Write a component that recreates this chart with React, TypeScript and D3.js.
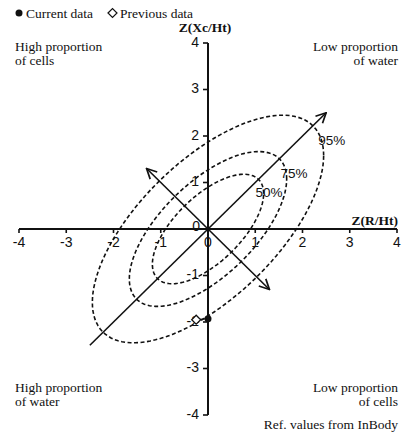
import React from "react";
import * as d3 from "d3";

const xTicks = [-4, -3, -2, -1, 0, 1, 2, 3, 4];
const yTicks = [-4, -3, -2, -1, 1, 2, 3, 4];
const correlation = 0.645;
const confidenceLevels = [
  { label: "50%", chi2: 1.386, lx: 1.29, ly: 0.8 },
  { label: "75%", chi2: 2.773, lx: 1.82, ly: 1.19 },
  { label: "95%", chi2: 5.991, lx: 2.62, ly: 1.9 },
];
const currentData = [{ x: 0, y: -1.93 }];
const previousData = [{ x: -0.25, y: -1.95 }];
const majorArrow = [[-2.5, -2.5], [2.5, 2.5]];
const minorArrow = [[-1.3, 1.3], [1.3, -1.3]];

const W = 413, H = 435;
const serif = "'Liberation Serif', 'Times New Roman', serif";
const sans = "'Liberation Sans', Arial, sans-serif";

export default function App() {
  const x = d3.scaleLinear().domain([-4, 4]).range([19, 397]);
  const y = d3.scaleLinear().domain([-4, 4]).range([415, 43]);
  const line = d3.line<[number, number]>().x(d => x(d[0])).y(d => y(d[1]));
  const angles = d3.range(0, 361, 3).map(a => (a * Math.PI) / 180);
  const s = Math.sqrt(1 - correlation * correlation);
  const ellipse = (c: number) =>
    line.curve(d3.curveLinearClosed)(
      angles.map(t => [Math.sqrt(c) * Math.cos(t), Math.sqrt(c) * (correlation * Math.cos(t) + s * Math.sin(t))] as [number, number])
    );
  const straight = d3.line<number[]>().x(d => x(d[0])).y(d => y(d[1]));
  const x0 = x(0), y0 = y(0);
  return (
    <svg width={W} height={H} style={{ position: "absolute", left: 0, top: 0, background: "#fff" }}>
      <defs>
        <marker id="arr" viewBox="0 0 12 12" refX="11" refY="6" markerWidth="12" markerHeight="12" markerUnits="userSpaceOnUse" orient="auto-start-reverse">
          <path d="M1,1 L11,6 L1,11" fill="none" stroke="#111" strokeWidth="1.7" />
        </marker>
      </defs>
      {/* legend */}
      <g fontFamily={serif} fontSize={13.5} fill="#111">
        <circle cx={19} cy={13} r={3.5} fill="#111" />
        <text x={26} y={17.5}>Current data</text>
        <path d="M108,13 l4.5,-4.5 l4.5,4.5 l-4.5,4.5 z" fill="none" stroke="#111" strokeWidth={1.2} />
        <text x={120} y={17.5}>Previous data</text>
        <text x={15} y={51}>High proportion</text>
        <text x={15} y={65}>of cells</text>
        <text x={398} y={51} textAnchor="end">Low proportion</text>
        <text x={398} y={65} textAnchor="end">of water</text>
        <text x={15} y={392}>High proportion</text>
        <text x={15} y={406}>of water</text>
        <text x={398} y={392} textAnchor="end">Low proportion</text>
        <text x={398} y={406} textAnchor="end">of cells</text>
        <text x={398} y={429} textAnchor="end">Ref. values from InBody</text>
        <text x={205} y={32} textAnchor="middle" fontWeight="bold">Z(Xc/Ht)</text>
        <text x={398} y={225} textAnchor="end" fontWeight="bold">Z(R/Ht)</text>
      </g>
      {/* ellipses */}
      {confidenceLevels.map(c => (
        <path key={c.label} d={ellipse(c.chi2) || ""} fill="none" stroke="#111" strokeWidth={1.6} strokeDasharray="4,2.5" />
      ))}
      {confidenceLevels.map(c => (
        <text key={c.label + "t"} x={x(c.lx)} y={y(c.ly)} dy="0.35em" textAnchor="middle" fontFamily={sans} fontSize={13.5} fill="#111">{c.label}</text>
      ))}
      {/* arrows */}
      <path d={straight(majorArrow) || ""} fill="none" stroke="#111" strokeWidth={1.6} markerEnd="url(#arr)" />
      <path d={straight(minorArrow) || ""} fill="none" stroke="#111" strokeWidth={1.6} markerEnd="url(#arr)" markerStart="url(#arr)" />
      {/* axes */}
      <line x1={x(-4)} x2={x(4)} y1={y0} y2={y0} stroke="#111" strokeWidth={2} />
      <line x1={x0} x2={x0} y1={y(4)} y2={y(-4)} stroke="#111" strokeWidth={2} />
      {xTicks.map(t => (
        <g key={"x" + t}>
          <line x1={x(t)} x2={x(t)} y1={y0} y2={y0 + 4} stroke="#111" strokeWidth={1.6} />
          <text x={x(t)} y={y0 + 18} textAnchor="middle" fontFamily={sans} fontSize={14} fill="#111">{t}</text>
        </g>
      ))}
      {yTicks.map(t => (
        <g key={"y" + t}>
          <line x1={x0} x2={x0 - 5} y1={y(t)} y2={y(t)} stroke="#111" strokeWidth={1.6} />
          <text x={x0 - 9} y={y(t) - 1} dy="0.35em" textAnchor="end" fontFamily={sans} fontSize={14} fill="#111">{t}</text>
        </g>
      ))}
      <text x={x0 - 8} y={y0 - 3} dy="0.35em" textAnchor="end" fontFamily={sans} fontSize={14} fill="#111">0</text>
      {/* data */}
      <line x1={x(previousData[0].x)} y1={y(previousData[0].y)} x2={x(currentData[0].x)} y2={y(currentData[0].y)} stroke="#111" strokeWidth={1.2} />
      {previousData.map((d, i) => (
        <path key={"p" + i} d={`M${x(d.x)},${y(d.y) - 4.5} l4.5,4.5 l-4.5,4.5 l-4.5,-4.5 z`} fill="#fff" stroke="#111" strokeWidth={1.3} />
      ))}
      {currentData.map((d, i) => (
        <circle key={"c" + i} cx={x(d.x)} cy={y(d.y)} r={3.5} fill="#111" />
      ))}
    </svg>
  );
}
